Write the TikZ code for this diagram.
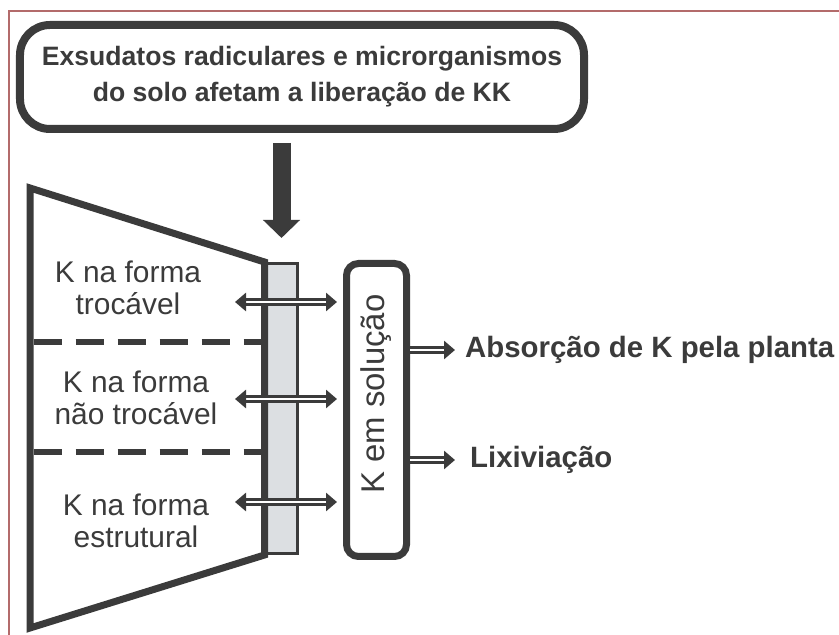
\documentclass[tikz,border=0pt]{standalone}
\usepackage{fontspec}
\setmainfont{Liberation Sans}
\usetikzlibrary{arrows.meta}
\definecolor{ink}{HTML}{3B3B3B}
\definecolor{barfill}{HTML}{DCDFE2}
\definecolor{framered}{HTML}{B36B6B}

\begin{document}
\begin{tikzpicture}[x=1bp,y=1bp,
  topbox/.style = {rectangle,rounded corners=30bp,draw=ink,line width=8bp,minimum width=564bp,minimum height=104bp,
                   align=center,text=ink,font=\fontsize{26.7}{36}\selectfont\bfseries},
  solbox/.style = {rectangle,rounded corners=12bp,draw=ink,line width=7bp,minimum width=60bp,minimum height=293bp,
                   text=ink,font=\fontsize{33}{36}\selectfont},
  barbox/.style = {rectangle,draw=ink,line width=3bp,fill=barfill,minimum width=31bp,minimum height=290bp},
  form/.style   = {align=center,text=ink,font=\fontsize{30}{32}\selectfont},
  outlbl/.style = {anchor=west,inner sep=0pt,text=ink,font=\fontsize{29.5}{34}\selectfont\bfseries},
  divider/.style = {draw=ink,line width=6bp,dash pattern=on 28bp off 14bp},
  tip/.tip      = {Triangle[width=18bp,length=11bp]},
  dbl/.style    = {draw=ink,line width=3bp,double=white,double distance=2bp},
  bigarrow/.style = {draw=ink,line width=18bp,-{Triangle[width=36bp,length=18bp]}}]
\useasboundingbox (0,0) rectangle (839,635);
\draw[framered,line width=1.5bp] (9,0) |- (839,624);

% top box
\node[topbox] (top) at (302,558) {Exsudatos radiculares e microrganismos\\do solo afetam a liberação de KK};

% soil body
\node[barbox] (bar) at (281.5,226.5) {};
\draw[ink,line width=7bp,line join=miter] (bar.north west) -- (30,447) -- (30,7) -- (bar.south west) -- cycle;
\draw[divider] (33.5,293) -- (bar.west |- 0,293);
\draw[divider] (33.5,183) -- (bar.west |- 0,183);

\node[form] (f1) at (128,347) {K na forma\\trocável};
\node[form] (f2) at (136,237) {K na forma\\não trocável};
\node[form] (f3) at (136,114) {K na forma\\estrutural};

\draw[bigarrow,shorten <=10bp,shorten >=24bp] (top.south -| bar.north) -- (bar.north);

% solution
\node[solbox] (sol) at (376.5,225) {\rotatebox{90}{\hspace{32bp}K em solução}};

\foreach \y [count=\i] in {333,236,133} {
  \coordinate (e\i) at (235,\y);
  \draw[dbl,tip-tip,shorten >=6bp] (e\i) -- (e\i -| sol.west);
}

\node[outlbl] (abs) at (465,285) {Absorção de K pela planta};
\node[outlbl] (lix) at (470,175) {Lixiviação};
\draw[dbl,-tip,shorten >=10bp] (abs.west -| sol.east) -- (abs.west);
\draw[dbl,-tip,shorten >=15bp] (lix.west -| sol.east) -- (lix.west);
\end{tikzpicture}
\end{document}
